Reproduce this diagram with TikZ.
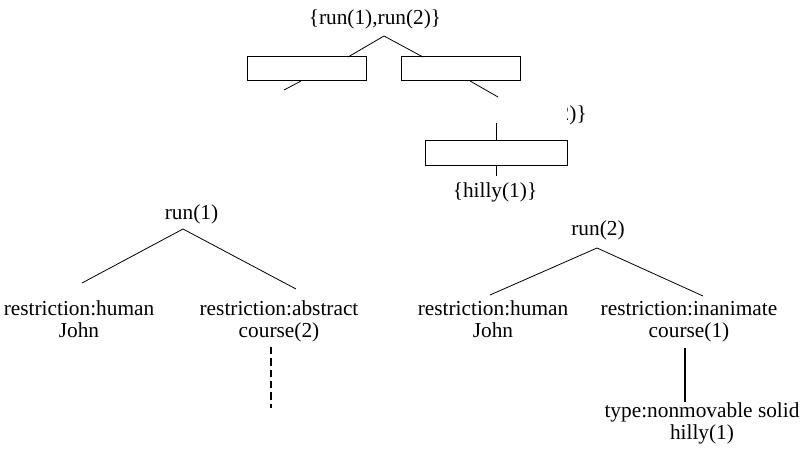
\documentclass[tikz,border=0pt]{standalone}
\usepackage{fontspec}
\setmainfont{Liberation Serif}
\usetikzlibrary{positioning}
\tikzstyle{term} = [inner sep=0pt, anchor=base, align=center, font=\fontsize{16}{16.5}\selectfont]
\tikzstyle{slot} = [rectangle, draw=black, line width=0.75pt, minimum width=89.25pt, minimum height=18pt]
\tikzstyle{link} = [line width=0.6pt]
\tikzstyle{strong} = [line width=1.5pt]

\begin{document}
\begin{tikzpicture}[x=0.75pt, y=-0.75pt]
\useasboundingbox (0,0) rectangle (803,453);
% merged node and its boxes
\node(top)[term] at (375,25) {\{run(1),run(2)\}};
\coordinate(top-apex) at (384,36);
\node(box1)[slot] at (306.5,69) {};
\node(box2)[slot] at (460.5,69) {};
\coordinate(box1-in) at (348,57);
\coordinate(box2-in) at (423,57);
\draw[link] (top-apex) -- (box1-in);
\draw[link] (top-apex) -- (box2-in);
\coordinate(box1-out) at (301,81);
\coordinate(box1-end) at (284,90);
\coordinate(box2-out) at (470,81);
\coordinate(box2-end) at (498,97);
\draw[link] (box1-out) -- (box1-end);
\draw[link] (box2-out) -- (box2-end);
\begin{scope}
\clip (567.5,100) rectangle (600,126);
\node(frag)[term, anchor=base east] at (587,120) {2)\}};
\end{scope}
\node(box3)[slot, minimum width=106.5pt, minimum height=18.75pt] at (496,152.5) {};
\coordinate(box3-top) at (496,123);
\draw[link] (box3-top) -- (box3.north);
\node(hilly)[term] at (495,197) {\{hilly(1)\}};
\coordinate(box3-end) at (496,176);
\draw[link] (box3.south) -- (box3-end);
% first tree
\node(run1)[term] at (191.5,219) {run(1)};
\coordinate(run1-apex) at (183,229);
\node(hum1)[term] at (79,337) {restriction:human\\John};
\node(abs)[term] at (279,337) {restriction:abstract\\course(2)};
\coordinate(hum1-in) at (82,283);
\coordinate(abs-in) at (296,289);
\draw[link] (run1-apex) -- (hum1-in);
\draw[link] (run1-apex) -- (abs-in);
\coordinate(abs-out) at (271,347);
\coordinate(abs-end) at (271,408);
\draw[strong, dash pattern=on 5.5pt off 3pt] (abs-out) -- (abs-end);
% second tree
\node(run2)[term] at (598,235) {run(2)};
\coordinate(run2-apex) at (597,248);
\node(hum2)[term] at (493,337) {restriction:human\\John};
\node(inan)[term] at (689,337) {restriction:inanimate\\course(1)};
\coordinate(hum2-in) at (490,295);
\coordinate(inan-in) at (703,296);
\draw[link] (run2-apex) -- (hum2-in);
\draw[link] (run2-apex) -- (inan-in);
\node(solid)[term] at (702,439) {type:nonmovable solid\\hilly(1)};
\coordinate(inan-out) at (685,348);
\coordinate(solid-in) at (685,402);
\draw[strong] (inan-out) -- (solid-in);
\end{tikzpicture}
\end{document}
